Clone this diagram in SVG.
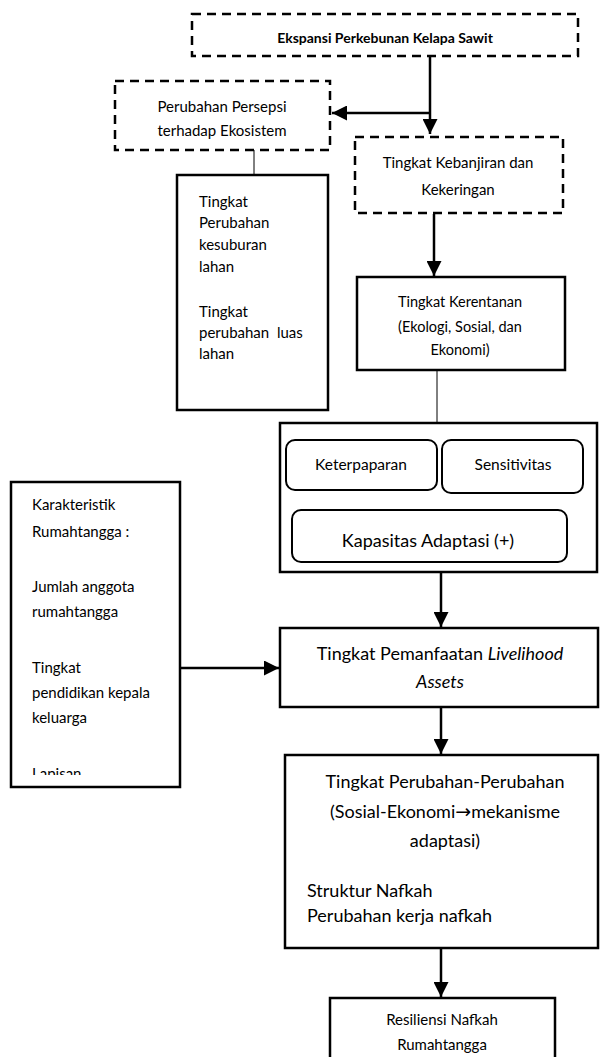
<svg xmlns="http://www.w3.org/2000/svg" width="600" height="1057" viewBox="0 0 600 1057">
<style>
text{font-family:Lato,"Open Sans","Liberation Sans",sans-serif;fill:#000}
.box{fill:#fff;stroke:#000;stroke-width:2.5}
.dash{fill:#fff;stroke:#000;stroke-width:2.5;stroke-dasharray:9 6}
.rbox{fill:#fff;stroke:#000;stroke-width:2}
.line{fill:none;stroke:#000;stroke-width:2.5}
.thin{fill:none;stroke:#000;stroke-width:1}
.c{text-anchor:middle}
</style>
<defs>
<marker id="arr" viewBox="0 0 10 10" refX="10" refY="5" markerWidth="6" markerHeight="6" markerUnits="strokeWidth" orient="auto">
<path d="M0,0 L10,5 L0,10 Z" fill="#000"/>
</marker>
<clipPath id="clipK"><rect x="11" y="482" width="169" height="293"/></clipPath>
</defs>
<g id="connectors">
<line class="line" x1="430" y1="56" x2="430" y2="134" marker-end="url(#arr)"/>
<line class="line" x1="430" y1="113" x2="332" y2="113" marker-end="url(#arr)"/>
<line class="thin" x1="254" y1="150" x2="254" y2="176"/>
<line class="line" x1="434" y1="214" x2="434" y2="276" marker-end="url(#arr)"/>
<line class="thin" x1="437" y1="370" x2="437" y2="423"/>
<line class="line" x1="441" y1="572" x2="441" y2="627" marker-end="url(#arr)"/>
<line class="line" x1="180" y1="668" x2="279" y2="668" marker-end="url(#arr)"/>
<line class="line" x1="441" y1="707" x2="441" y2="754" marker-end="url(#arr)"/>
<line class="line" x1="441" y1="948" x2="441" y2="997" marker-end="url(#arr)"/>
</g>
<g id="n-ekspansi">
<rect class="dash" x="192" y="14" width="386" height="42"/>
<text class="c" x="385" y="43" font-size="14" font-weight="bold">Ekspansi Perkebunan Kelapa Sawit</text>
</g>
<g id="n-persepsi">
<rect class="dash" x="115" y="81" width="215" height="69"/>
<text class="c" x="222" y="112" font-size="15">Perubahan Persepsi</text>
<text class="c" x="222" y="136" font-size="15">terhadap Ekosistem</text>
</g>
<g id="n-kebanjiran">
<rect class="dash" x="355" y="137" width="208" height="76"/>
<text class="c" x="458" y="168" font-size="15">Tingkat Kebanjiran dan</text>
<text class="c" x="458" y="195" font-size="15">Kekeringan</text>
</g>
<g id="n-lahan">
<rect class="box" x="177" y="175" width="151" height="235"/>
<text x="199" y="207" font-size="15">Tingkat</text>
<text x="199" y="228" font-size="15">Perubahan</text>
<text x="199" y="250" font-size="15">kesuburan</text>
<text x="199" y="272" font-size="15">lahan</text>
<text x="199" y="317" font-size="15">Tingkat</text>
<text x="199" y="338" font-size="15" xml:space="preserve">perubahan  luas</text>
<text x="199" y="359" font-size="15">lahan</text>
</g>
<g id="n-kerentanan">
<rect class="box" x="357" y="277" width="208" height="93"/>
<text class="c" x="460" y="307" font-size="14.5">Tingkat Kerentanan</text>
<text class="c" x="460" y="332" font-size="14.5">(Ekologi, Sosial, dan</text>
<text class="c" x="460" y="355" font-size="14.5">Ekonomi)</text>
</g>
<g id="n-komponen">
<rect class="box" x="280" y="423" width="317" height="149"/>
<rect class="rbox" x="286" y="440" width="151" height="50" rx="9"/>
<text class="c" x="361" y="470" font-size="15.5">Keterpaparan</text>
<rect class="rbox" x="442" y="440" width="141" height="53" rx="9"/>
<text class="c" x="513" y="470" font-size="15.5">Sensitivitas</text>
<rect class="rbox" x="292" y="510" width="275" height="52" rx="9"/>
<text class="c" x="428" y="547" font-size="18">Kapasitas Adaptasi (+)</text>
</g>
<g id="n-karakteristik">
<rect class="box" x="11" y="482" width="169" height="305"/>
<g clip-path="url(#clipK)">
<text x="32" y="510" font-size="15">Karakteristik</text>
<text x="32" y="537" font-size="15">Rumahtangga :</text>
<text x="32" y="592" font-size="15">Jumlah anggota</text>
<text x="32" y="617" font-size="15">rumahtangga</text>
<text x="32" y="673" font-size="15">Tingkat</text>
<text x="32" y="698" font-size="15">pendidikan kepala</text>
<text x="32" y="723" font-size="15">keluarga</text>
<text x="32" y="779" font-size="15">Lapisan</text>
</g>
</g>
<g id="n-livelihood">
<rect class="box" x="280" y="628" width="318" height="79"/>
<text class="c" x="440" y="660" font-size="18">Tingkat Pemanfaatan <tspan font-style="italic">Livelihood</tspan></text>
<text class="c" x="440" y="688" font-size="18" font-style="italic">Assets</text>
</g>
<g id="n-perubahan">
<rect class="box" x="285" y="755" width="313" height="193"/>
<text class="c" x="445" y="788" font-size="18">Tingkat Perubahan-Perubahan</text>
<text class="c" x="445" y="818" font-size="18">(Sosial-Ekonomi<tspan font-family="DejaVu Sans" font-size="19">→</tspan>mekanisme</text>
<text class="c" x="445" y="847" font-size="18">adaptasi)</text>
<text x="307" y="897" font-size="18">Struktur Nafkah</text>
<text x="307" y="922" font-size="18">Perubahan kerja nafkah</text>
</g>
<g id="n-resiliensi">
<rect class="box" x="330" y="998" width="225" height="70"/>
<text class="c" x="442" y="1025" font-size="15">Resiliensi Nafkah</text>
<text class="c" x="442" y="1050" font-size="15">Rumahtangga</text>
</g>
</svg>
